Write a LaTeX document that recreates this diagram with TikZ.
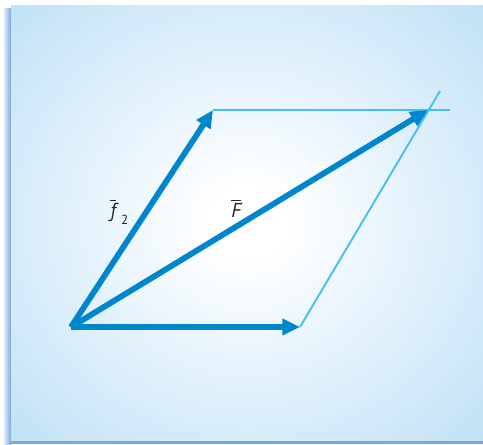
\documentclass[tikz,border=0pt]{standalone}
\usepackage{fontspec}
\newfontfamily\labelfont{PT Sans}
\usetikzlibrary{arrows.meta}
\definecolor{panelblue}{RGB}{184,221,245}
\definecolor{shadowblue}{RGB}{122,166,218}
\definecolor{vecblue}{RGB}{0,134,204}
\definecolor{guideblue}{RGB}{70,192,240}
\definecolor{labelgray}{RGB}{40,40,40}
\pgfdeclareradialshading{panelglow}{\pgfpoint{0bp}{0bp}}{color(0bp)=(white); color(4bp)=(white); color(40bp)=(panelblue); color(80bp)=(panelblue)}
\tikzset{
  every picture/.style={line join=round, >=Stealth},
  vector/.style={draw=vecblue, line width=3.3pt, -{Triangle[length=10pt,width=9pt]}},
  guide/.style={draw=guideblue, line width=1.1pt},
  veclabel/.style={text=labelgray, font=\labelfont\fontsize{11.5}{13}\selectfont, inner sep=0pt},
}

\begin{document}
\begin{tikzpicture}[x=0.02cm, y=-0.02cm]
\useasboundingbox (0,0) rectangle (483,444);
% panel with its shadow
\shade[left color=white, right color=shadowblue] (2,8) rectangle (11,444);
\fill[shadowblue] (11,440) rectangle (483,444);
\shade[shading=panelglow] (11,5) rectangle (483,440);
% points of the parallelogram
\coordinate (O) at (71,327);
\coordinate (f1tip) at (300,327);
\coordinate (f2tip) at (213,110);
\coordinate (Ftip) at (428,110);
\coordinate (topend) at (450,110);
\coordinate (rightend) at (440,91);
% construction lines
\draw[guide] (f2tip) -- (topend);
\draw[guide] (f1tip) -- (rightend);
% vectors
\draw[vector] (O) -- (f1tip);
\draw[vector] (O) -- (f2tip);
\draw[vector] (O) -- (Ftip);
\node[veclabel, anchor=base west] (f2label) at (110,217)
  {$\overline{\mbox{\itshape f}}$\hspace{3pt}\raisebox{-4.5pt}{\fontsize{7.5}{9}\selectfont 2}};
\node[veclabel, anchor=base west] (Flabel) at (231,217) {$\overline{\mbox{\itshape F}}$};
\end{tikzpicture}
\end{document}
